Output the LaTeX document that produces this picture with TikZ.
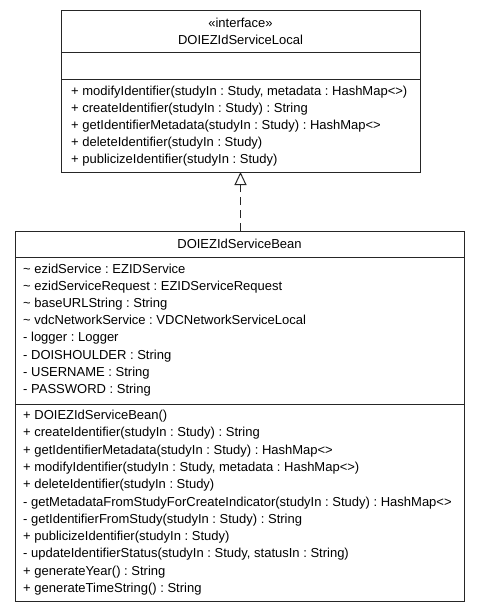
\documentclass[tikz,border=0pt]{standalone}
\usepackage{fontspec}
\setmainfont{Liberation Sans}
\usetikzlibrary{arrows.meta}
\frenchspacing
\begin{document}
\begin{tikzpicture}[x=1pt,y=-1pt,
  comp/.style={draw=black!85, line width=1pt, inner sep=0pt, outer sep=0pt, anchor=north west},
  ctext/.style={inner sep=0pt, font=\fontsize{13}{16}\selectfont},
  ltext/.style={inner sep=0pt, anchor=base west, font=\fontsize{13}{16}\selectfont},
  realize/.style={draw=black!85, line width=1pt, dash pattern=on 8pt off 5pt,
    -{Triangle[open, length=13pt, width=12pt]}}]
\fill[white] (0,0) rectangle (480,613);
\useasboundingbox (0,0) rectangle (480,613);
% interface DOIEZIdServiceLocal
\node[comp, minimum width=359pt, minimum height=42pt] (ifhead) at (61,10) {};
\node[comp, minimum width=359pt, minimum height=27pt] (ifattr) at (61,52) {};
\node[comp, minimum width=359pt, minimum height=93pt] (ifops) at (61,79) {};
\node[ctext] (ifster) at (240.5,23) {«interface»};
\node[ctext] (ifname) at (240.5,40) {DOIEZIdServiceLocal};
\foreach \t [count=\i from 0] in {
  {+ modifyIdentifier(studyIn : Study, metadata : HashMap<>)},
  {+ createIdentifier(studyIn : Study) : String},
  {+ getIdentifierMetadata(studyIn : Study) : HashMap<>},
  {+ deleteIdentifier(studyIn : Study)},
  {+ publicizeIdentifier(studyIn : Study)}}
  \node[ltext] (ifop\i) at (71,{95.5+17*\i}) {\t};
% class DOIEZIdServiceBean
\node[comp, minimum width=449pt, minimum height=26pt] (beanhead) at (15,231) {};
\node[comp, minimum width=449pt, minimum height=147pt] (beanattr) at (15,257) {};
\node[comp, minimum width=449pt, minimum height=197pt] (beanops) at (15,404) {};
\node[ctext] (beanname) at (239.5,244) {DOIEZIdServiceBean};
\foreach \t [count=\i from 0] in {
  {\textasciitilde\ ezidService : EZIDService},
  {\textasciitilde\ ezidServiceRequest : EZIDServiceRequest},
  {\textasciitilde\ baseURLString : String},
  {\textasciitilde\ vdcNetworkService : VDCNetworkServiceLocal},
  {- logger : Logger},
  {- DOISHOULDER : String},
  {- USERNAME : String},
  {- PASSWORD : String}}
  \node[ltext] (beanat\i) at (23,{273.5+17.1*\i}) {\t};
\foreach \t [count=\i from 0] in {
  {+ DOIEZIdServiceBean()},
  {+ createIdentifier(studyIn : Study) : String},
  {+ getIdentifierMetadata(studyIn : Study) : HashMap<>},
  {+ modifyIdentifier(studyIn : Study, metadata : HashMap<>)},
  {+ deleteIdentifier(studyIn : Study)},
  {- getMetadataFromStudyForCreateIndicator(studyIn : Study) : HashMap<>},
  {- getIdentifierFromStudy(studyIn : Study) : String},
  {+ publicizeIdentifier(studyIn : Study)},
  {- updateIdentifierStatus(studyIn : Study, statusIn : String)},
  {+ generateYear() : String},
  {+ generateTimeString() : String}}
  \node[ltext] (beanop\i) at (23,{419.5+17.3*\i}) {\t};
% realization
\draw[realize] (ifops.south |- beanhead.north) -- (ifops.south);
\end{tikzpicture}
\end{document}
